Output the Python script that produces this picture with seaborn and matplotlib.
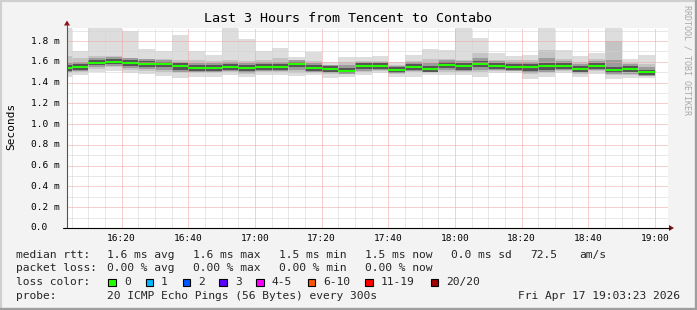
import numpy as np
import pandas as pd
import matplotlib
matplotlib.use("Agg")
import matplotlib.pyplot as plt
import matplotlib.dates as mdates
import seaborn as sns
from matplotlib.ticker import MultipleLocator
from matplotlib.transforms import blended_transform_factory
from matplotlib.lines import Line2D
from matplotlib.patches import Rectangle, Polygon

# ---------------- data (ms) ----------------
start_time = "2026-04-17 16:00"
n_bars = 36
median = [1.543, 1.55, 1.59, 1.60, 1.59, 1.58, 1.575, 1.556, 1.54, 1.54, 1.55, 1.54,
          1.55, 1.55, 1.575, 1.54, 1.53, 1.515, 1.56, 1.56, 1.52, 1.55, 1.53, 1.57,
          1.56, 1.58, 1.56, 1.55, 1.55, 1.56, 1.56, 1.53, 1.56, 1.52, 1.535, 1.50]
ping_max = [1.95, 1.70, 1.95, 1.95, 1.90, 1.72, 1.70, 1.86, 1.70, 1.665, 1.95, 1.82,
            1.70, 1.73, 1.65, 1.69, 1.60, 1.65, 1.65, 1.655, 1.60, 1.67, 1.72, 1.71,
            1.95, 1.83, 1.68, 1.655, 1.67, 1.95, 1.71, 1.66, 1.68, 1.95, 1.63, 1.665]
ping_min = [1.45, 1.47, 1.505, 1.515, 1.495, 1.48, 1.46, 1.44, 1.45, 1.45, 1.47, 1.45,
            1.47, 1.47, 1.46, 1.47, 1.44, 1.455, 1.47, 1.49, 1.45, 1.455, 1.47, 1.47,
            1.47, 1.455, 1.49, 1.49, 1.435, 1.45, 1.495, 1.455, 1.48, 1.435, 1.44, 1.44]
mid_hi = [1.66, 1.64, 1.66, 1.66, 1.64, 1.63, 1.63, 1.62, 1.62, 1.61, 1.62, 1.61,
          1.62, 1.64, 1.62, 1.61, 1.57, 1.60, 1.61, 1.61, 1.57, 1.61, 1.63, 1.63,
          1.62, 1.68, 1.62, 1.62, 1.62, 1.71, 1.63, 1.60, 1.63, 1.80, 1.59, 1.58]
mid_lo = [1.49, 1.50, 1.53, 1.55, 1.52, 1.51, 1.50, 1.49, 1.49, 1.49, 1.50, 1.48,
          1.50, 1.50, 1.49, 1.49, 1.48, 1.48, 1.50, 1.51, 1.48, 1.50, 1.49, 1.50,
          1.50, 1.50, 1.51, 1.51, 1.48, 1.49, 1.51, 1.48, 1.51, 1.47, 1.47, 1.46]
inner_hi = [1.59, 1.60, 1.64, 1.645, 1.635, 1.625, 1.62, 1.60, 1.585, 1.585, 1.595, 1.585,
            1.595, 1.60, 1.615, 1.585, 1.565, 1.565, 1.60, 1.60, 1.56, 1.60, 1.59, 1.615,
            1.61, 1.635, 1.605, 1.60, 1.60, 1.64, 1.605, 1.58, 1.605, 1.62, 1.575, 1.55]
inner_lo = [1.50, 1.51, 1.545, 1.56, 1.54, 1.53, 1.52, 1.505, 1.50, 1.50, 1.51, 1.495,
            1.51, 1.51, 1.52, 1.50, 1.49, 1.485, 1.515, 1.52, 1.49, 1.51, 1.50, 1.52,
            1.51, 1.52, 1.52, 1.515, 1.49, 1.505, 1.52, 1.49, 1.52, 1.48, 1.485, 1.465]
core_hi = [1.57, 1.575, 1.615, 1.625, 1.615, 1.605, 1.60, 1.585, 1.565, 1.565, 1.575, 1.565,
           1.575, 1.575, 1.60, 1.565, 1.555, 1.54, 1.585, 1.585, 1.545, 1.575, 1.555, 1.595,
           1.59, 1.605, 1.585, 1.575, 1.58, 1.59, 1.585, 1.555, 1.585, 1.55, 1.56, 1.525]
core_lo = [1.515, 1.52, 1.565, 1.575, 1.56, 1.55, 1.545, 1.525, 1.51, 1.51, 1.52, 1.51,
           1.52, 1.52, 1.545, 1.51, 1.50, 1.49, 1.53, 1.53, 1.495, 1.52, 1.50, 1.54,
           1.525, 1.55, 1.53, 1.52, 1.515, 1.525, 1.53, 1.50, 1.53, 1.49, 1.505, 1.47]

y_ticks = [0.0, 0.2, 0.4, 0.6, 0.8, 1.0, 1.2, 1.4, 1.6, 1.8]
title = "Last 3 Hours from Tencent to Contabo"
loss_labels = ["0", "1", "2", "3", "4-5", "6-10", "11-19", "20/20"]
loss_colors = ["#26ff00", "#00b8ff", "#0059ff", "#5e00ff", "#ff00ff", "#ff5500", "#ff0000", "#a00000"]

# ---------------- figure ----------------
sns.set_theme(style="white")
plt.rcParams["font.family"] = ["DejaVu Sans Mono"]

W, H = 697, 310
fig = plt.figure(figsize=(W / 100, H / 100), dpi=100, facecolor="#f3f3f3")
L, R, T, B = 67, 668, 27.5, 228
ax = fig.add_axes([L / W, 1 - B / H, (R - L) / W, (B - T) / H])
ax.set_facecolor("white")

edges = pd.date_range(start_time, periods=n_bars + 1, freq="5min")
ex = mdates.date2num(edges.to_pydatetime())


def ext(a):
    return list(a) + [a[-1]]


bands = [(ping_min, ping_max, "#dddddd"), (mid_lo, mid_hi, "#c4c4c4"),
         (inner_lo, inner_hi, "#9c9c9c"), (core_lo, core_hi, "#555555")]
for lo, hi, c in bands:
    ax.fill_between(ex, ext(lo), ext(hi), step="post", color=c, lw=0, zorder=1)

# median as separate horizontal segments (no vertical connectors)
rows = []
for i in range(n_bars):
    rows.append({"t": ex[i], "v": median[i], "bar": i})
    rows.append({"t": ex[i + 1], "v": median[i], "bar": i})
seg = pd.DataFrame(rows)
sns.lineplot(data=seg, x="t", y="v", units="bar", estimator=None, color="#26ff00",
             lw=1.5, solid_capstyle="butt", zorder=3, ax=ax, legend=False)

x0 = mdates.date2num(pd.Timestamp("2026-04-17 16:03:36"))
x1 = mdates.date2num(pd.Timestamp("2026-04-17 19:03:54"))
ax.set_xlim(x0, x1)
ax.set_ylim(0, 1.93)
ax.set_xlabel("")
ax.set_ylabel("")

ax.xaxis.set_major_locator(mdates.MinuteLocator(byminute=[0, 20, 40]))
ax.xaxis.set_minor_locator(mdates.MinuteLocator(byminute=list(range(0, 60, 5))))
ax.xaxis.set_major_formatter(mdates.DateFormatter("%H:%M"))
ax.yaxis.set_major_locator(MultipleLocator(0.2))
ax.yaxis.set_minor_locator(MultipleLocator(0.1))
ax.set_axisbelow(False)
ax.grid(which="minor", color="#d2d2d2", ls=(0, (1, 1)), lw=0.72)
ax.grid(which="major", color="#f2a0a0", ls=(0, (1, 1)), lw=0.72)
for s in ax.spines.values():
    s.set_visible(False)
ax.tick_params(axis="y", which="major", direction="out", length=3, width=0.72,
               color="#555555", labelleft=False)
ax.tick_params(axis="y", which="minor", length=0)
ax.tick_params(axis="x", which="major", direction="out", length=2, width=0.72,
               color="#333333", labelsize=6.8, pad=2.5, labelcolor="black")
ax.tick_params(axis="x", which="minor", length=0)

# y labels
tr = blended_transform_factory(fig.transFigure, ax.transData)
for v in y_ticks:
    lab = "0.0" if v == 0 else f"{v:.1f} m"
    ax.text(30.7 / W, v, lab, transform=tr, ha="left", va="center", fontsize=6.8,
            color="black")


def P(x, y):
    return (x / W, 1 - y / H)


# axis lines and arrows
fig.add_artist(Line2D([P(67, 0)[0]] * 2, [P(0, 228)[1], P(0, 24)[1]],
                      color="#555555", lw=0.8, transform=fig.transFigure))
fig.add_artist(Line2D([P(63, 0)[0], P(670, 0)[0]], [P(0, 228)[1]] * 2,
                      color="black", lw=0.8, transform=fig.transFigure))
fig.add_artist(Polygon([P(64, 25.5), P(70, 25.5), P(67, 20.5)], closed=True,
                       color="#8b1010", transform=fig.transFigure, lw=0))
fig.add_artist(Polygon([P(669, 225), P(669, 231), P(674, 228)], closed=True,
                       color="#8b1010", transform=fig.transFigure, lw=0))

# title & labels
fig.text(*P(347.8, 19), title, ha="center", va="center", fontsize=9.6, color="black")
fig.text(*P(11, 126.5), "Seconds", rotation=90, ha="center", va="center",
         fontsize=8, color="black")
fig.text(*P(687, 60), "RRDTOOL / TOBI OETIKER", rotation=270, ha="center",
         va="center", fontsize=6, color="#a8a8a8")

# legend block
fs = 8.1
y1, y2, y3, y4 = 254.7, 268.2, 282.3, 295.8
fig.text(*P(16, y1), "median rtt:", ha="left", va="center", fontsize=fs)
for x, s in [(107.3, "1.6 ms avg"), (193.3, "1.6 ms max"), (279.3, "1.5 ms min"),
             (365, "1.5 ms now"), (451, "0.0 ms sd"), (530, "72.5"), (579.3, "am/s")]:
    fig.text(*P(x, y1), s, ha="left", va="center", fontsize=fs)
fig.text(*P(16, y2), "packet loss:", ha="left", va="center", fontsize=fs)
for x, s in [(107.3, "0.00 % avg"), (193.3, "0.00 % max"), (279.3, "0.00 % min"),
             (365, "0.00 % now")]:
    fig.text(*P(x, y2), s, ha="left", va="center", fontsize=fs)
fig.text(*P(16, y3), "loss color:", ha="left", va="center", fontsize=fs)
sq_x = [108.3, 145.7, 182.7, 219.3, 256, 307.7, 365.3, 430.7]
lab_x = [124, 161, 198, 235, 272, 323, 381, 446]
for sx, lx, lab, c in zip(sq_x, lab_x, loss_labels, loss_colors):
    fig.add_artist(Rectangle(P(sx, 286), 7.5 / W, 7.5 / H, transform=fig.transFigure,
                             facecolor=c, edgecolor="black", lw=0.8))
    fig.text(*P(lx, y3), lab, ha="left", va="center", fontsize=fs)
fig.text(*P(16, y4), "probe:", ha="left", va="center", fontsize=fs)
fig.text(*P(107.3, y4), "20 ICMP Echo Pings (56 Bytes) every 300s", ha="left",
         va="center", fontsize=fs)
fig.text(*P(680, y4), "Fri Apr 17 19:03:23 2026", ha="right", va="center", fontsize=fs)

# 3D frame
fig.add_artist(Line2D([0, 1], [P(0, 0.8)[1]] * 2, color="#cfcfcf", lw=1.6,
                      transform=fig.transFigure))
fig.add_artist(Line2D([P(0.8, 0)[0]] * 2, [0, 1], color="#cfcfcf", lw=1.6,
                      transform=fig.transFigure))
fig.add_artist(Line2D([0, 1], [P(0, 308.5)[1]] * 2, color="#9e9e9e", lw=2.4,
                      transform=fig.transFigure))
fig.add_artist(Line2D([P(695.5, 0)[0]] * 2, [0, 1], color="#9e9e9e", lw=2.4,
                      transform=fig.transFigure))

fig.savefig("out.png", dpi=100, facecolor=fig.get_facecolor())
